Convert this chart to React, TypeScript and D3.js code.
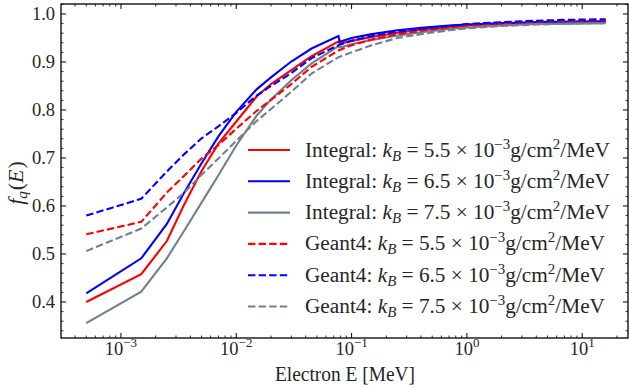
import React from "react";
import * as d3 from "d3";

const energies = [5e-4, 1.5e-3, 2.5e-3, 3.5e-3, 5e-3, 7e-3, 1e-2, 1.5e-2, 2e-2, 3e-2, 4.5e-2, 7.7e-2, 7.9e-2, 0.1, 0.15, 0.25, 0.4, 0.7, 1, 2, 4, 8, 16];

const integral55 = [0.40, 0.458, 0.527, 0.601, 0.673, 0.73, 0.776, 0.828, 0.854, 0.883, 0.912, 0.943, 0.938, 0.944, 0.952, 0.961, 0.967, 0.973, 0.976, 0.979, 0.981, 0.982, 0.983];
const integral65 = [0.418, 0.491, 0.5625, 0.626, 0.689, 0.745, 0.796, 0.843, 0.868, 0.901, 0.928, 0.954, 0.942, 0.950, 0.958, 0.966, 0.971, 0.976, 0.978, 0.981, 0.983, 0.984, 0.985];
const integral75 = [0.356, 0.4215, 0.491, 0.547, 0.607, 0.664, 0.726, 0.788, 0.822, 0.862, 0.897, 0.933, 0.930, 0.937, 0.946, 0.955, 0.962, 0.969, 0.972, 0.976, 0.979, 0.980, 0.981];
const geant55 = [0.541, 0.567, 0.628, 0.662, 0.699, 0.727, 0.761, 0.798, 0.821, 0.854, 0.89, 0.924, 0.925, 0.935, 0.947, 0.958, 0.965, 0.972, 0.976, 0.981, 0.984, 0.986, 0.987];
const geant65 = [0.58, 0.615, 0.672, 0.707, 0.741, 0.766, 0.794, 0.83, 0.85, 0.877, 0.908, 0.935, 0.936, 0.944, 0.954, 0.963, 0.969, 0.975, 0.979, 0.983, 0.986, 0.988, 0.989];
const geant75 = [0.506, 0.553, 0.597, 0.627, 0.665, 0.699, 0.736, 0.777, 0.802, 0.838, 0.876, 0.91, 0.911, 0.92, 0.935, 0.95, 0.958, 0.966, 0.970, 0.975, 0.978, 0.980, 0.981];

const seriesLabels = ["Integral:", "Integral:", "Integral:", "Geant4:", "Geant4:", "Geant4:"];
const kbValues = ["5.5", "6.5", "7.5", "5.5", "6.5", "7.5"];
const seriesColors = ["#ff0000", "#0000ff", "#708090", "#ff0000", "#0000ff", "#708090"];
const seriesDashed = [false, false, false, true, true, true];
const seriesValues = [integral55, integral65, integral75, geant55, geant65, geant75];

const yTicks = [0.4, 0.5, 0.6, 0.7, 0.8, 0.9, 1.0];
const xTickExps = [-3, -2, -1, 0, 1];

const W = 629;
const H = 387;
const FONT = "'Liberation Serif', 'DejaVu Serif', serif";
const TXT = "#262626";

export default function App() {
  const left = 61, right = 628, top = 4, bottom = 338;
  const x = d3.scaleLog().domain([Math.pow(10, -3.52), Math.pow(10, 1.397)]).range([left, right]);
  const y = d3.scaleLinear().domain([0.325, 1.0208]).range([bottom, top]);

  const line = d3.line<[number, number]>().x((d) => x(d[0])).y((d) => y(d[1])).curve(d3.curveLinear);

  const minorX: number[] = [];
  for (let e = -4; e <= 1; e++) {
    for (let m = 2; m <= 9; m++) {
      const v = m * Math.pow(10, e);
      if (v > x.domain()[0] && v < x.domain()[1]) minorX.push(v);
    }
  }
  const minorY: number[] = [];
  for (let k = 17; k <= 51; k++) {
    const r = k * 0.02;
    if ((k * 2) % 10 !== 0) minorY.push(r);
  }

  const legendX0 = 248, legendX1 = 290, legendTextX = 305, legendY0 = 150, legendDy = 31.3;

  return (
    <svg width={W} height={H} style={{ position: "fixed", left: 0, top: 0, background: "#fff" }} fontFamily={FONT}>
      <rect x={0} y={0} width={W} height={H} fill="#fff" />
      <defs>
        <clipPath id="plotclip">
          <rect x={left} y={top} width={right - left} height={bottom - top} />
        </clipPath>
      </defs>
      <g clipPath="url(#plotclip)">
        {seriesValues.map((vals, i) => (
          <path
            key={i}
            d={line(energies.map((e, j) => [e, vals[j]] as [number, number])) || ""}
            fill="none"
            stroke={seriesColors[i]}
            strokeWidth={2.1}
            strokeDasharray={seriesDashed[i] ? "7.4,3.2" : undefined}
          />
        ))}
      </g>
      <rect x={left} y={top} width={right - left} height={bottom - top} fill="none" stroke="#000" strokeWidth={1.3} />
      {xTickExps.map((e) => {
        const px = x(Math.pow(10, e));
        return (
          <g key={"xt" + e}>
            <line x1={px} x2={px} y1={bottom} y2={bottom - 5} stroke="#000" strokeWidth={1} />
            <line x1={px} x2={px} y1={top} y2={top + 5} stroke="#000" strokeWidth={1} />
            <text x={px} y={355} textAnchor="middle" fontSize={18.5} fill={TXT}>
              10
              <tspan dy={-8} fontSize={13}>{e < 0 ? "\u2212" + Math.abs(e) : String(e)}</tspan>
            </text>
          </g>
        );
      })}
      {minorX.map((v, i) => {
        const px = x(v);
        return (
          <g key={"xm" + i}>
            <line x1={px} x2={px} y1={bottom} y2={bottom - 2.5} stroke="#000" strokeWidth={0.8} />
            <line x1={px} x2={px} y1={top} y2={top + 2.5} stroke="#000" strokeWidth={0.8} />
          </g>
        );
      })}
      {yTicks.map((v) => {
        const py = y(v);
        return (
          <g key={"yt" + v}>
            <line x1={left} x2={left + 5} y1={py} y2={py} stroke="#000" strokeWidth={1} />
            <line x1={right} x2={right - 5} y1={py} y2={py} stroke="#000" strokeWidth={1} />
            <text x={55} y={py + 6} textAnchor="end" fontSize={18.5} fill={TXT}>
              {v.toFixed(1)}
            </text>
          </g>
        );
      })}
      {minorY.map((v, i) => {
        const py = y(v);
        return (
          <g key={"ym" + i}>
            <line x1={left} x2={left + 2.5} y1={py} y2={py} stroke="#000" strokeWidth={0.8} />
            <line x1={right} x2={right - 2.5} y1={py} y2={py} stroke="#000" strokeWidth={0.8} />
          </g>
        );
      })}
      <text x={345} y={381} textAnchor="middle" fontSize={20} fill={TXT} textLength={140} lengthAdjust="spacingAndGlyphs">
        Electron E [MeV]
      </text>
      <text transform="translate(23,183) rotate(-90)" textAnchor="middle" fontSize={22} fill={TXT}>
        <tspan fontStyle="italic">f</tspan>
        <tspan fontStyle="italic" fontSize={15} dy={4}>q</tspan>
        <tspan dy={-4} dx={1}>(</tspan>
        <tspan fontStyle="italic">E</tspan>
        <tspan dx={1}>)</tspan>
      </text>
      {seriesLabels.map((lab, i) => {
        const ly = legendY0 + i * legendDy;
        return (
          <g key={"lg" + i}>
            <line
              x1={legendX0}
              x2={legendX1}
              y1={ly}
              y2={ly}
              stroke={seriesColors[i]}
              strokeWidth={2.1}
              strokeDasharray={seriesDashed[i] ? "7.4,3.2" : undefined}
            />
            <text x={legendTextX} y={ly + 6.5} fontSize={20} fill={TXT} textLength={i < 3 ? 305 : 300} lengthAdjust="spacingAndGlyphs">
              {lab + " "}
              <tspan fontStyle="italic">k</tspan>
              <tspan fontStyle="italic" fontSize={14} dy={4}>B</tspan>
              <tspan dy={-4}>{" = " + kbValues[i] + " \u00d7 10"}</tspan>
              <tspan fontSize={14} dy={-8}>{"\u22123"}</tspan>
              <tspan dy={8}>g/cm</tspan>
              <tspan fontSize={14} dy={-8}>2</tspan>
              <tspan dy={8}>/MeV</tspan>
            </text>
          </g>
        );
      })}
    </svg>
  );
}
